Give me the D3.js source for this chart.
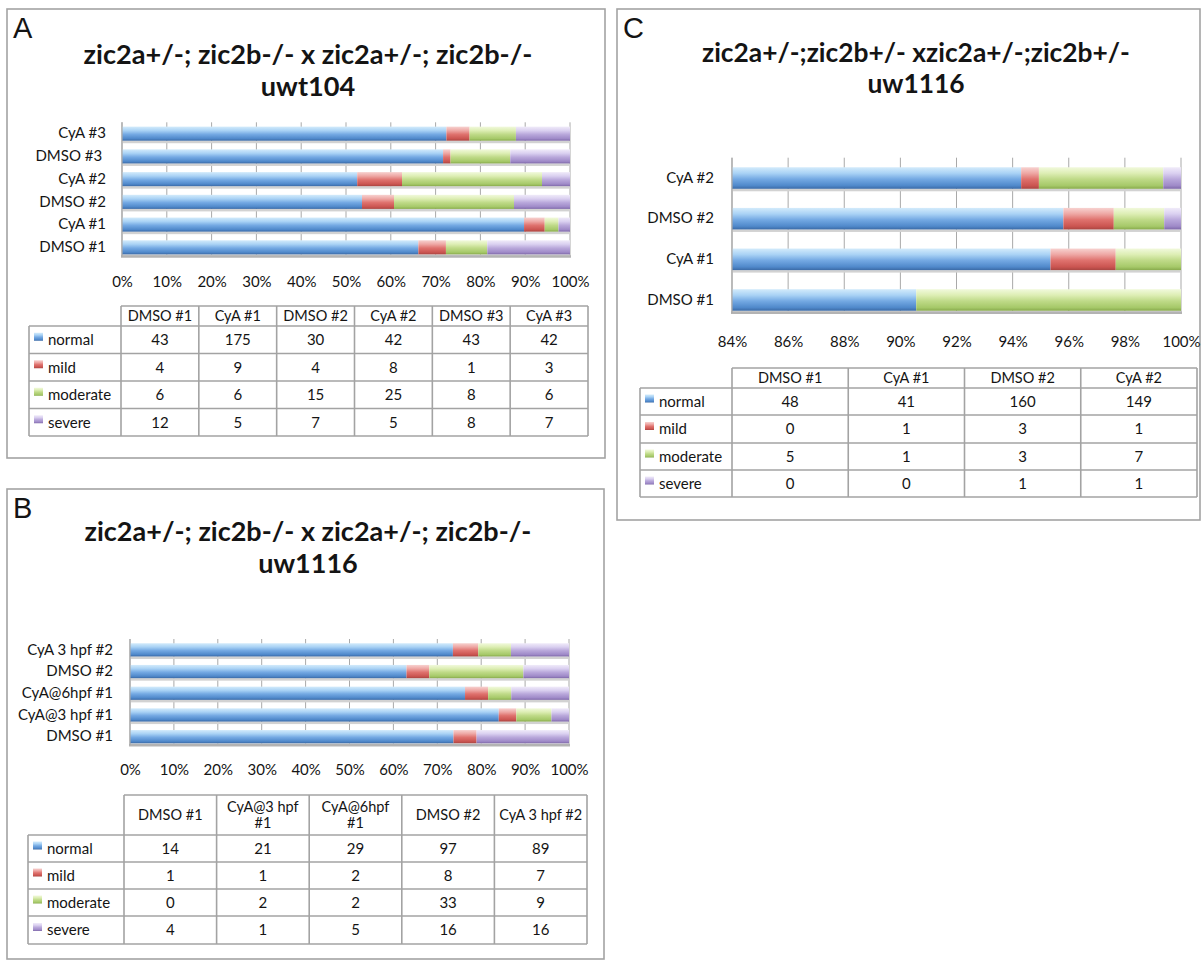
<!DOCTYPE html>
<html>
<head>
<meta charset="utf-8">
<script src="https://cdn.jsdelivr.net/npm/d3@7"></script>
<style>
  body { margin: 0; background: #ffffff; }
  svg { display: block; }
  text { fill: #141414; }
</style>
</head>
<body>
<svg id="fig" width="1204" height="961"></svg>
<script>
// Phenotype classes shared by all three experiments
const seriesNames = ["normal", "mild", "moderate", "severe"];

// A: zic2a+/-; zic2b-/- incross, uwt104
const catsA = ["DMSO #1", "CyA #1", "DMSO #2", "CyA #2", "DMSO #3", "CyA #3"];
const axisLabelsA = ["DMSO #1", "CyA #1", "DMSO #2", "CyA #2", "DMSO #3 ", "CyA #3"];
const normalA = [43, 175, 30, 42, 43, 42];
const mildA = [4, 9, 4, 8, 1, 3];
const moderateA = [6, 6, 15, 25, 8, 6];
const severeA = [12, 5, 7, 5, 8, 7];
const ticksA = [0, 0.1, 0.2, 0.3, 0.4, 0.5, 0.6, 0.7, 0.8, 0.9, 1];

// B: zic2a+/-; zic2b-/- incross, uw1116
const catsB = ["DMSO #1", "CyA@3 hpf #1", "CyA@6hpf #1", "DMSO #2", "CyA 3 hpf #2"];
const headersB = ["DMSO #1", "CyA@3 hpf|#1", "CyA@6hpf|#1", "DMSO #2", "CyA 3 hpf #2"];
const normalB = [14, 21, 29, 97, 89];
const mildB = [1, 1, 2, 8, 7];
const moderateB = [0, 2, 2, 33, 9];
const severeB = [4, 1, 5, 16, 16];
const ticksB = [0, 0.1, 0.2, 0.3, 0.4, 0.5, 0.6, 0.7, 0.8, 0.9, 1];

// C: zic2a+/-;zic2b+/- incross, uw1116
const catsC = ["DMSO #1", "CyA #1", "DMSO #2", "CyA #2"];
const normalC = [48, 41, 160, 149];
const mildC = [0, 1, 3, 1];
const moderateC = [5, 1, 3, 7];
const severeC = [0, 0, 1, 1];
const ticksC = [0.84, 0.86, 0.88, 0.90, 0.92, 0.94, 0.96, 0.98, 1];

// Bevelled fills: highlight on top, darker towards the lower edge
const gradStops = {
  normal:   ["#d3ebfb", "#a9d2f5", "#74a9e3", "#5089cb", "#3b6aa6"],
  mild:     ["#f7d2d0", "#eea7a4", "#df726e", "#cb5551", "#a94541"],
  moderate: ["#f1f9dc", "#ddeeb4", "#bfda88", "#a6c969", "#88aa4c"],
  severe:   ["#f0ebf9", "#dad0f0", "#b9a8db", "#9f8ac8", "#7f69a9"]
};

const UI = "Lato, 'Open Sans', sans-serif";
const svg = d3.select("#fig");
const defs = svg.append("defs");

seriesNames.forEach(name => {
  const g = defs.append("linearGradient")
    .attr("id", "grad-" + name)
    .attr("x1", 0).attr("y1", 0).attr("x2", 0).attr("y2", 1);
  const offs = [0, 0.28, 0.55, 0.85, 1];
  gradStops[name].forEach((c, i) => g.append("stop").attr("offset", offs[i]).attr("stop-color", c));
});

function fitWidth(sel, target) {
  const w = sel.node().getComputedTextLength();
  const fs = parseFloat(sel.attr("font-size"));
  return fs * target / w;
}

function drawPanel(cfg) {
  const g = svg.append("g");

  // frame
  g.append("rect")
    .attr("x", cfg.box.x).attr("y", cfg.box.y)
    .attr("width", cfg.box.w).attr("height", cfg.box.h)
    .attr("fill", "#fff").attr("stroke", "#a3a3a3").attr("stroke-width", 1.6);

  // panel letter
  g.append("text")
    .attr("x", cfg.letter.x).attr("y", cfg.letter.y)
    .attr("font-family", "'Liberation Sans', Arial, sans-serif")
    .attr("font-size", 29)
    .text(cfg.letter.text);

  // two-line title
  const t1 = g.append("text")
    .attr("x", cfg.title.cx).attr("y", cfg.title.y1)
    .attr("text-anchor", "middle")
    .attr("font-family", UI).attr("font-weight", 700).attr("font-size", 26)
    .text(cfg.title.lines[0]);
  const fs = fitWidth(t1, cfg.title.width);
  t1.attr("font-size", fs);
  g.append("text")
    .attr("x", cfg.title.cx).attr("y", cfg.title.y2)
    .attr("text-anchor", "middle")
    .attr("font-family", UI).attr("font-weight", 700).attr("font-size", fs)
    .text(cfg.title.lines[1]);

  // data rows -> 100% stacked layers
  const rows = cfg.cats.map((c, i) => {
    const r = { cat: c };
    seriesNames.forEach((s, k) => r[s] = cfg.values[k][i]);
    return r;
  });
  const layers = d3.stack().keys(seriesNames).offset(d3.stackOffsetExpand)(rows);

  const p = cfg.plot;
  const x = d3.scaleLinear().domain(cfg.domain).range([p.x0, p.x1]).clamp(true);
  const y = d3.scaleBand().domain(cfg.cats).range([p.bottom, p.top])
    .paddingInner(p.pad).paddingOuter(p.pad / 2);
  const bw = y.bandwidth();
  const floorY = y(cfg.cats[0]) + bw + 2;

  // vertical gridlines
  g.append("g").selectAll("line").data(cfg.ticks).join("line")
    .attr("x1", d => x(d)).attr("x2", d => x(d))
    .attr("y1", p.top).attr("y2", floorY)
    .attr("stroke", "#a9a9a9").attr("stroke-width", 1);

  // depth shading under each bar
  g.append("g").selectAll("rect").data(cfg.cats).join("rect")
    .attr("x", p.x0).attr("width", p.x1 - p.x0)
    .attr("y", d => y(d) + bw).attr("height", 2.5)
    .attr("fill", "#d2d2d2");

  // floor
  g.append("line")
    .attr("x1", p.x0 - 1).attr("x2", p.x1 + 1)
    .attr("y1", floorY).attr("y2", floorY)
    .attr("stroke", "#b3b3b3").attr("stroke-width", 2.5);

  // stacked segments
  const segG = g.append("g");
  layers.forEach(layer => {
    segG.append("g").selectAll("rect")
      .data(layer.filter(d => x(d[1]) - x(d[0]) > 0))
      .join("rect")
      .attr("x", d => x(d[0]))
      .attr("width", d => x(d[1]) - x(d[0]))
      .attr("y", d => y(d.data.cat))
      .attr("height", bw)
      .attr("fill", "url(#grad-" + layer.key + ")");
  });

  // category axis
  const labelMap = new Map(cfg.cats.map((c, i) => [c, cfg.axisLabels[i]]));
  const yAxis = g.append("g")
    .attr("transform", `translate(${p.x0},0)`)
    .call(d3.axisLeft(y).tickSize(0).tickPadding(p.x0 - cfg.labelX).tickFormat(d => labelMap.get(d)));
  yAxis.select(".domain").remove();
  yAxis.selectAll("text")
    .attr("font-family", UI).attr("font-size", 15).style("white-space", "pre").attr("fill", "#141414");

  // wall line on the left
  g.append("line")
    .attr("x1", p.x0).attr("x2", p.x0)
    .attr("y1", p.top).attr("y2", floorY)
    .attr("stroke", "#a9a9a9").attr("stroke-width", 1.2);

  // value axis
  const xAxis = g.append("g")
    .attr("transform", `translate(0,${cfg.tickY})`)
    .call(d3.axisBottom(x).tickValues(cfg.ticks).tickSize(0).tickPadding(0).tickFormat(d3.format(".0%")));
  xAxis.select(".domain").remove();
  xAxis.selectAll("text")
    .attr("font-family", UI).attr("font-size", 15).attr("dy", 0).attr("fill", "#141414");

  drawTable(g, cfg);
}

function drawTable(g, cfg) {
  const tb = cfg.table;
  const nCols = cfg.headers.length;
  const colX = d3.scaleLinear().domain([0, nCols]).range([tb.xLeg, tb.xr]);
  const rowY = tb.y; // header top, header bottom, then one edge per series row
  const lineC = "#a3a3a3";
  const lg = g.append("g").attr("stroke", lineC).attr("stroke-width", 1.6);

  // horizontal rules
  lg.append("line").attr("x1", tb.xLeg).attr("x2", tb.xr).attr("y1", rowY[0]).attr("y2", rowY[0]);
  rowY.slice(1).forEach(yy =>
    lg.append("line").attr("x1", tb.xl).attr("x2", tb.xr).attr("y1", yy).attr("y2", yy));
  // vertical rules
  lg.append("line").attr("x1", tb.xl).attr("x2", tb.xl).attr("y1", rowY[1]).attr("y2", rowY[rowY.length - 1]);
  d3.range(nCols + 1).forEach(i =>
    lg.append("line").attr("x1", colX(i)).attr("x2", colX(i)).attr("y1", rowY[0]).attr("y2", rowY[rowY.length - 1]));

  // header cells
  cfg.headers.forEach((h, i) => {
    const parts = h.split("|");
    const cx = (colX(i) + colX(i + 1)) / 2;
    const cy = (rowY[0] + rowY[1]) / 2;
    const lh = 16;
    parts.forEach((part, k) => {
      g.append("text")
        .attr("x", cx)
        .attr("y", cy + (k - (parts.length - 1) / 2) * lh)
        .attr("dy", "0.35em")
        .attr("text-anchor", "middle")
        .attr("font-family", UI).attr("font-size", 14.5)
        .text(part);
    });
  });

  // series rows with swatches
  seriesNames.forEach((s, k) => {
    const cy = (rowY[k + 1] + rowY[k + 2]) / 2;
    g.append("rect")
      .attr("x", tb.xl + 5).attr("y", cy - 7)
      .attr("width", 9).attr("height", 8)
      .attr("fill", "url(#grad-" + s + ")");
    g.append("text")
      .attr("x", tb.xl + 19).attr("y", cy).attr("dy", "0.35em")
      .attr("font-family", UI).attr("font-size", 15)
      .text(s);
    cfg.values[k].forEach((v, i) => {
      g.append("text")
        .attr("x", (colX(i) + colX(i + 1)) / 2).attr("y", cy).attr("dy", "0.35em")
        .attr("text-anchor", "middle")
        .attr("font-family", UI).attr("font-size", 15)
        .text(v);
    });
  });
}

drawPanel({
  box: { x: 7, y: 9, w: 598, h: 449 },
  letter: { x: 13, y: 38, text: "A" },
  title: { cx: 308, y1: 64, y2: 96, width: 449,
           lines: ["zic2a+/-; zic2b-/- x zic2a+/-; zic2b-/-", "uwt104"] },
  cats: catsA, axisLabels: axisLabelsA, headers: catsA,
  values: [normalA, mildA, moderateA, severeA],
  domain: [0, 1], ticks: ticksA,
  plot: { x0: 122, x1: 570, top: 122.3, bottom: 258.7, pad: 0.38 },
  labelX: 106, tickY: 287,
  table: { xl: 29, xLeg: 121, xr: 588, y: [306, 326, 353.5, 381, 408.5, 436] }
});

drawPanel({
  box: { x: 7, y: 489, w: 597, h: 470 },
  letter: { x: 13, y: 518, text: "B" },
  title: { cx: 308, y1: 541, y2: 573, width: 447,
           lines: ["zic2a+/-; zic2b-/- x zic2a+/-; zic2b-/-", "uw1116"] },
  cats: catsB, axisLabels: catsB, headers: headersB,
  values: [normalB, mildB, moderateB, severeB],
  domain: [0, 1], ticks: ticksB,
  plot: { x0: 130, x1: 569, top: 639, bottom: 747.5, pad: 0.39 },
  labelX: 113, tickY: 775,
  table: { xl: 28, xLeg: 124, xr: 587, y: [795, 835, 862, 889, 916, 944] }
});

drawPanel({
  box: { x: 617, y: 9, w: 583, h: 511 },
  letter: { x: 623, y: 38, text: "C" },
  title: { cx: 916, y1: 62, y2: 93, width: 428,
           lines: ["zic2a+/-;zic2b+/- xzic2a+/-;zic2b+/-", "uw1116"] },
  cats: catsC, axisLabels: catsC, headers: catsC,
  values: [normalC, mildC, moderateC, severeC],
  domain: [0.84, 1], ticks: ticksC,
  plot: { x0: 732, x1: 1181, top: 157.7, bottom: 320.3, pad: 0.47 },
  labelX: 714, tickY: 347,
  table: { xl: 640, xLeg: 732, xr: 1197, y: [368, 388, 415, 443, 470, 497] }
});
</script>
</body>
</html>
